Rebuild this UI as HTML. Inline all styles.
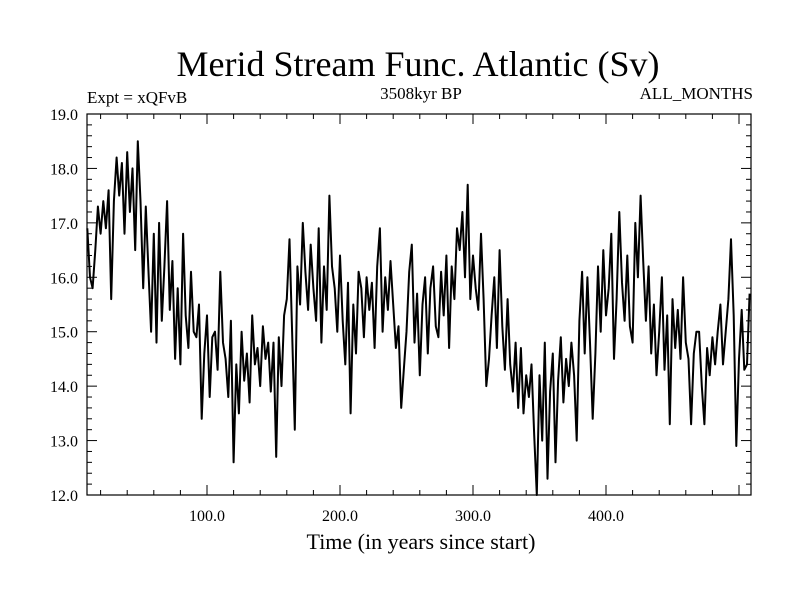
<!DOCTYPE html>
<html><head><meta charset="utf-8"><style>
body{margin:0;background:#fff}
svg{display:block}
text{font-family:"Liberation Serif",serif;fill:#000}
</style></head><body>
<svg id="chart" width="800" height="600" xmlns="http://www.w3.org/2000/svg">
<rect width="800" height="600" fill="#fff"/>
<text x="418" y="76" font-size="36" text-anchor="middle">Merid Stream Func. Atlantic (Sv)</text>
<text x="87" y="103" font-size="17">Expt = xQFvB</text>
<text x="421" y="99" font-size="17" text-anchor="middle">3508kyr BP</text>
<text x="753" y="99" font-size="17" text-anchor="end">ALL_MONTHS</text>
<text x="421" y="549" font-size="22" text-anchor="middle">Time (in years since start)</text>
<g id="axes"></g>
<path id="series" fill="none" stroke="#000" stroke-width="2" stroke-linejoin="round"/>
<rect x="87" y="114" width="664" height="381" fill="none" stroke="#000" stroke-width="1.2"/>
</svg>
<script>
const startYear = 10;
const stepYears = 2;
const values = [
16.9,16.0,15.8,16.5,17.3,16.8,17.4,16.9,17.6,15.6,
17.4,18.2,17.5,18.1,16.8,18.3,17.2,18.0,16.5,18.5,
17.4,15.8,17.3,16.1,15.0,16.8,14.8,17.0,15.2,16.2,
17.4,15.4,16.3,14.5,15.8,14.4,16.8,15.3,14.7,16.1,
15.0,14.9,15.5,13.4,14.6,15.3,13.8,14.9,15.0,14.3,
16.1,14.8,14.5,13.8,15.2,12.6,14.4,13.5,15.0,14.1,
14.6,13.7,15.3,14.4,14.7,14.0,15.1,14.5,14.8,13.9,
14.8,12.7,14.9,14.0,15.3,15.6,16.7,15.0,13.2,16.2,
15.5,17.0,16.1,15.4,16.6,15.8,15.2,16.9,14.8,16.2,
15.4,17.5,16.2,15.8,15.0,16.4,15.2,14.4,15.9,13.5,
15.5,14.6,16.1,15.8,14.9,16.0,15.4,15.9,14.7,16.2,
16.9,15.0,16.0,15.4,16.3,15.5,14.7,15.1,13.6,14.3,
15.0,16.1,16.6,14.8,15.7,14.2,15.5,16.0,14.6,15.8,
16.2,15.1,14.9,16.1,15.3,16.4,14.7,16.2,15.6,16.9,
16.5,17.2,16.0,17.7,15.6,16.4,15.8,15.4,16.8,15.6,
14.0,14.5,15.3,16.0,14.7,16.5,15.1,14.3,15.6,14.4,
13.9,14.8,13.6,14.7,13.5,14.2,13.8,14.4,13.1,12.0,
14.2,13.0,14.8,12.3,13.9,14.6,12.6,14.1,14.9,13.7,
14.5,14.0,14.8,14.2,13.0,15.2,16.1,14.6,16.0,14.8,
13.4,14.6,16.2,15.0,16.5,15.3,15.8,16.8,14.5,15.6,
17.2,15.9,15.2,16.4,15.1,14.8,17.0,16.0,17.5,16.3,
15.2,16.2,14.6,15.5,14.2,15.0,16.0,14.3,15.3,13.3,
15.6,14.7,15.4,14.5,16.0,14.8,14.5,13.3,14.6,15.0,
15.0,14.0,13.3,14.7,14.2,14.9,14.4,15.0,15.5,14.4,
15.0,15.6,16.7,15.3,12.9,14.5,15.4,14.3,14.4,15.7
];
const xTickValues = [100,200,300,400];
const xTickLabels = ["100.0","200.0","300.0","400.0"];
const yTickValues = [12,13,14,15,16,17,18,19];
const yTickLabels = ["12.0","13.0","14.0","15.0","16.0","17.0","18.0","19.0"];

const L=87,R=751,T=114,B=495;
function xs(v){return 74+1.33*v;}
function ys(v){return B-(v-12)/7*(B-T);}
const NS="http://www.w3.org/2000/svg";
const axes=document.getElementById('axes');
function line(x1,y1,x2,y2){const l=document.createElementNS(NS,'line');l.setAttribute('x1',x1);l.setAttribute('y1',y1);l.setAttribute('x2',x2);l.setAttribute('y2',y2);l.setAttribute('stroke','#000');l.setAttribute('stroke-width','1');axes.appendChild(l);return l;}
for(let v=20;v<=500;v+=20){const x=xs(v);if(x<L||x>R)continue;const len=(v%100===0)?10:5;
const a=line(x,B,x,B-len);
const b=line(x,T,x,T+len);}
xTickValues.forEach((v,i)=>{const t=document.createElementNS(NS,'text');t.setAttribute('x',xs(v));t.setAttribute('y',521);t.setAttribute('font-size','16');t.setAttribute('text-anchor','middle');t.textContent=xTickLabels[i];


axes.appendChild(t);});
for(let k=0;k<=35;k++){const v=12+k*0.2;const y=ys(v);const len=(k%5===0)?10:5;
const a=line(L,y,L+len,y);
const b=line(R,y,R-len,y);}
yTickValues.forEach((v,i)=>{const t=document.createElementNS(NS,'text');t.setAttribute('x',78);t.setAttribute('y',ys(v)+6);t.setAttribute('font-size','16');t.setAttribute('text-anchor','end');t.textContent=yTickLabels[i];


axes.appendChild(t);});
let d='';
values.forEach((v,i)=>{const yr=startYear+i*stepYears;d+=(i?'L':'M')+xs(yr).toFixed(1)+','+ys(v).toFixed(1);});
document.getElementById('series').setAttribute('d',d);
</script>
</body></html>
